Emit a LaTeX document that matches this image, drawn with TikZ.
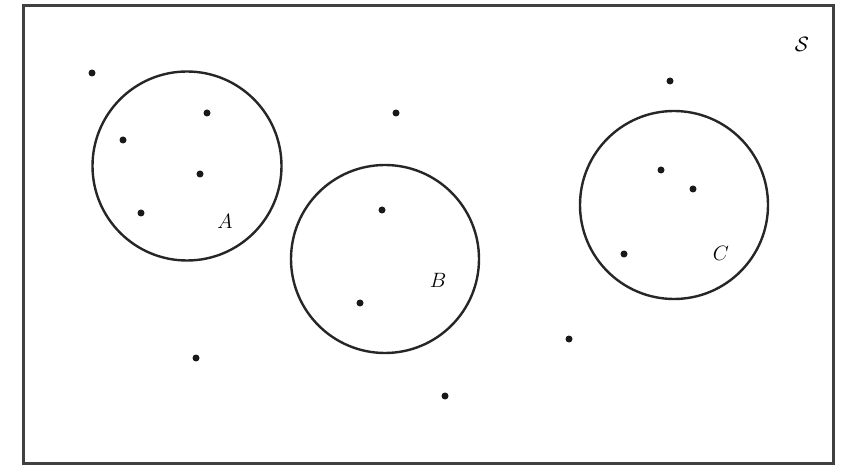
\documentclass[tikz,border=0pt]{standalone}
\begin{document}
\begin{tikzpicture}[x=1pt,y=-1pt,
  set/.style={draw=black!85,line width=2.4pt},
  pt/.style={circle,fill=black!90,inner sep=0pt,minimum size=7pt},
  lab/.style={font=\fontsize{22}{26}\selectfont}]
\useasboundingbox (0,0) rectangle (854,470);
\node[draw=black!75,line width=3pt,minimum width=810pt,minimum height=457pt,inner sep=0pt] (S) at (428,234.5) {};
\node[set,circle,minimum size=189pt,inner sep=0pt] (A) at (187,166) {};
\node[set,circle,minimum size=188pt,inner sep=0pt] (B) at (385,259) {};
\node[set,circle,minimum size=188pt,inner sep=0pt] (C) at (674,205) {};
\node[lab] (lS) at (802,44) {$\mathcal{S}$};
\node[lab] (lA) at (225,221) {$A$};
\node[lab] (lB) at (438,280) {$B$};
\node[lab] (lC) at (721,253) {$C$};
\foreach \n/\x/\y in {p1/92/73,p2/207/113,p3/123/140,p4/200/174,p5/141/213,p6/396/113,p7/382/210,p8/360/303,p9/670/81,p10/661/170,p11/693/189,p12/624/254,p13/196/358,p14/569/339,p15/445/396}
  \node[pt] (\n) at (\x,\y) {};
\end{tikzpicture}
\end{document}
